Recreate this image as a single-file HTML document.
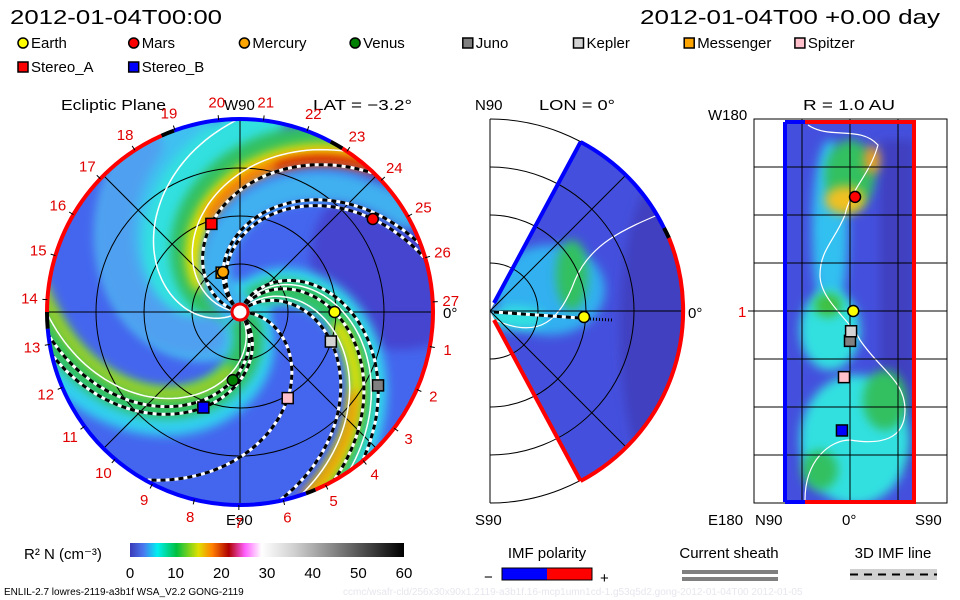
<!DOCTYPE html>
<html><head><meta charset="utf-8"><style>
body{margin:0;background:#fff;}
svg{display:block;font-family:"Liberation Sans",sans-serif;}
</style></head><body>
<svg id="c" width="960" height="600" viewBox="0 0 960 600">
<defs>
<filter id="bl" filterUnits="userSpaceOnUse" x="0" y="0" width="960" height="600"><feGaussianBlur stdDeviation="5"/></filter>
<clipPath id="eclip"><circle cx="240" cy="312" r="193"/></clipPath>
<clipPath id="wclip"><path d="M490,311 L580.6,140.6 A193,193 0 0 1 580.6,481.4 Z"/></clipPath>
<clipPath id="rclip"><rect x="785" y="122" width="129" height="380"/></clipPath>
<linearGradient id="cbar" x1="0" x2="1" y1="0" y2="0">
<stop offset="0" stop-color="#3a3ab8"/><stop offset="0.05" stop-color="#4a7af0"/><stop offset="0.1" stop-color="#00f0f0"/>
<stop offset="0.17" stop-color="#00c040"/><stop offset="0.25" stop-color="#e0e000"/><stop offset="0.3" stop-color="#ff8000"/>
<stop offset="0.36" stop-color="#b00000"/><stop offset="0.42" stop-color="#ff60ff"/><stop offset="0.48" stop-color="#ffffff"/>
<stop offset="0.6" stop-color="#d0d0d0"/><stop offset="1" stop-color="#000"/></linearGradient>
</defs>

<text x="10" y="24" font-size="20" textLength="212" lengthAdjust="spacingAndGlyphs">2012-01-04T00:00</text>
<text x="640" y="24" font-size="20" textLength="300" lengthAdjust="spacingAndGlyphs">2012-01-04T00 +0.00 day</text>
<g id="legend" font-size="15"></g>

<g>
<text x="61" y="110" font-size="15" textLength="105" lengthAdjust="spacingAndGlyphs">Ecliptic Plane</text>
<text x="224" y="110" font-size="15">W90</text>
<text x="313" y="110" font-size="15" textLength="99" lengthAdjust="spacingAndGlyphs">LAT = −3.2°</text>
<text x="226" y="525" font-size="15">E90</text>
<text x="443" y="318" font-size="15">0°</text>
<g clip-path="url(#eclip)">
<circle cx="240" cy="312" r="193" fill="#4466ee"/>
<g id="bands"></g>
</g>
<g id="egrid" fill="none" stroke="#000" stroke-width="1"></g>
<g id="espirals"></g>
<g id="ering"></g>
<g id="edays" font-size="15" fill="#e00000"></g>
<circle cx="240" cy="312" r="8" fill="#fff" stroke="#e00" stroke-width="3"/>
<g id="emarks"></g>
</g>

<g>
<text x="475" y="110" font-size="15">N90</text>
<text x="539" y="110" font-size="15" textLength="76" lengthAdjust="spacingAndGlyphs">LON = 0°</text>
<text x="475" y="525" font-size="15">S90</text>
<text x="688" y="318" font-size="15">0°</text>
<g clip-path="url(#wclip)">
<rect x="480" y="100" width="220" height="420" fill="#4450dd"/>
<ellipse cx="660" cy="330" rx="40" ry="150" fill="#4040c0" filter="url(#bl)"/>
<ellipse cx="550" cy="290" rx="55" ry="45" fill="#30b0f0" filter="url(#bl)"/>
<ellipse cx="572" cy="275" rx="16" ry="35" fill="#30c060" filter="url(#bl)"/>
<ellipse cx="515" cy="318" rx="30" ry="12" fill="#30e0e0" filter="url(#bl)"/>
<path d="M495,320 C540,340 560,320 575,280 C590,245 620,230 670,210" fill="none" stroke="#fff" stroke-width="1.2"/>
</g>
<g id="mgrid" fill="none" stroke="#000" stroke-width="1"></g>
<path d="M494,303 L580.6,142" stroke="#00f" stroke-width="4" fill="none"/>
<path d="M580.6,142 A193,193 0 0 1 664,228" stroke="#00f" stroke-width="4" fill="none"/>
<path d="M664,228 A193,193 0 0 1 669,238" stroke="#000" stroke-width="4" fill="none"/>
<path d="M669,238 A193,193 0 0 1 580.6,481" stroke="#f00" stroke-width="4" fill="none"/>
<path d="M494,320 L580.6,481" stroke="#f00" stroke-width="4" fill="none"/>
<path d="M494,312 L580,318" stroke="#fff" stroke-width="3" fill="none"/>
<path d="M494,312 L580,318" stroke="#000" stroke-width="3" stroke-dasharray="5,4" fill="none"/>
<path d="M590,319 L612,320" stroke="#000" stroke-width="3" stroke-dasharray="1,2" fill="none"/>
<circle cx="584" cy="317" r="5.5" fill="#ff0" stroke="#000" stroke-width="1.5"/>
</g>

<g>
<text x="803" y="110" font-size="15" textLength="92" lengthAdjust="spacingAndGlyphs">R = 1.0 AU</text>
<text x="708" y="120" font-size="15">W180</text>
<text x="708" y="525" font-size="15">E180</text>
<text x="738" y="317" font-size="15" fill="#e00">1</text>
<text x="755" y="525" font-size="15">N90</text>
<text x="842" y="525" font-size="15">0°</text>
<text x="915" y="525" font-size="15">S90</text>
<g clip-path="url(#rclip)">
<rect x="785" y="122" width="129" height="380" fill="#4450dd"/>
<rect x="880" y="140" width="34" height="330" fill="#4040c0" filter="url(#bl)"/>
<ellipse cx="830" cy="230" rx="18" ry="90" fill="#30c0f0" filter="url(#bl)"/>
<ellipse cx="850" cy="175" rx="25" ry="35" fill="#30c060" filter="url(#bl)"/>
<ellipse cx="845" cy="200" rx="20" ry="14" fill="#f0c020" filter="url(#bl)"/>
<ellipse cx="872" cy="160" rx="8" ry="14" fill="#f0a020" filter="url(#bl)"/>
<ellipse cx="830" cy="330" rx="30" ry="40" fill="#30e0e0" filter="url(#bl)"/>
<ellipse cx="828" cy="305" rx="14" ry="12" fill="#40c040" filter="url(#bl)"/>
<ellipse cx="855" cy="440" rx="55" ry="65" fill="#30e0e0" filter="url(#bl)"/>
<ellipse cx="885" cy="400" rx="22" ry="30" fill="#30c060" filter="url(#bl)"/>
<ellipse cx="820" cy="470" rx="18" ry="20" fill="#30c060" filter="url(#bl)"/>
<path d="M808,125 C830,140 860,125 878,145 C870,175 850,190 845,215 C835,240 820,250 820,275 C820,300 850,320 860,340 C880,370 905,380 905,410 C905,440 880,445 850,440 C830,440 805,460 805,500" fill="none" stroke="#fff" stroke-width="1.2"/>
</g>
<g id="rgrid" stroke="#000" stroke-width="1" fill="none"></g>
<path d="M785,122 L785,502" stroke="#00f" stroke-width="4"/>
<path d="M785,122 L805,122 M785,502 L805,502" stroke="#00f" stroke-width="4"/>
<path d="M805,122 L914,122 L914,502 L805,502" stroke="#f00" stroke-width="4" fill="none"/>
<g id="rmarks"></g>
</g>

<text x="24" y="559" font-size="15">R² N (cm⁻³)</text>
<rect x="130" y="543" width="274" height="14" fill="url(#cbar)"/>
<g id="cbticks" font-size="15" text-anchor="middle"></g>
<text x="547" y="558" font-size="15" text-anchor="middle">IMF polarity</text>
<text x="484" y="582" font-size="15">−</text>
<rect x="502" y="568" width="45" height="12" fill="#00f"/>
<rect x="547" y="568" width="45" height="12" fill="#f00"/>
<rect x="502" y="568" width="90" height="12" fill="none" stroke="#000"/>
<text x="600" y="583" font-size="15">+</text>
<text x="729" y="558" font-size="15" text-anchor="middle">Current sheath</text>
<rect x="682" y="570" width="96" height="4" fill="#808080"/>
<rect x="682" y="577" width="96" height="4" fill="#808080"/>
<text x="893" y="558" font-size="15" text-anchor="middle">3D IMF line</text>
<rect x="850" y="569" width="87" height="11" fill="#d0d0d0"/>
<line x1="850" y1="574.5" x2="937" y2="574.5" stroke="#000" stroke-width="2" stroke-dasharray="8,6"/>
<text x="4" y="595" font-size="10">ENLIL-2.7 lowres-2119-a3b1f WSA_V2.2 GONG-2119</text>
<text x="343" y="595" font-size="10" fill="#e6e6ee">ccmc/wsafr-cld/256x30x90x1.2119-a3b1f.16-mcp1umn1cd-1.g53q5d2.gong-2012-01-04T00   2012-01-05</text>
</svg>
<script>
const NS='http://www.w3.org/2000/svg';
const legendNames=['Earth','Mars','Mercury','Venus','Juno','Kepler','Messenger','Spitzer','Stereo_A','Stereo_B'];
const legendColors=['#ffff00','#ff0000','#ffa500','#008000','#808080','#d3d3d3','#ffa500','#ffc0cb','#ff0000','#0000ff'];
const legendShapes=['c','c','c','c','s','s','s','s','s','s'];
// ecliptic positions: distance (AU) and angle (deg, CCW from +x)
const eclDist=[0.98,1.68,0.45,0.71,1.62,0.99,0.45,1.02,0.96,1.06];
const eclAng=[0,35,113,264,-28,-18,115,-61,108,249];
// lat/lon panel positions
const llLat=[-3,-4.7,null,null,0,-1,null,5.6,null,7.5];
const llLon=[0,107,null,null,-28,-19,null,-62,null,-112];
const dayLabels=[27,1,2,3,4,5,6,7,8,9,10,11,12,13,14,15,16,17,18,19,20,21,22,23,24,25,26];
const cbTicks=[0,10,20,30,40,50,60];
const CX=240,CY=312,RAU=96.5,RMAX=193,TW=0.62;
function el(t,a,p){const e=document.createElementNS(NS,t);for(const k in a)e.setAttribute(k,a[k]);p.appendChild(e);return e;}
function pol(r,deg){const a=deg*Math.PI/180;return [CX+r*Math.cos(a),CY-r*Math.sin(a)];}
function spiral(phi0,r0,r1){let d='';for(let r=r0;r<=r1;r+=3){const p=pol(r,phi0-TW*r);d+=(d?'L':'M')+p[0].toFixed(1)+','+p[1].toFixed(1);}return d;}
const lg=document.getElementById('legend');
legendNames.forEach((n,i)=>{
 const row=i<8?0:1, col=i<8?i:i-8;
 const x=18+col*110.7+(col>=4?2:0), y=row?72:48;
 let m;
 if(legendShapes[i]==='c') m=el('circle',{cx:x+5,cy:y-5,r:5,fill:legendColors[i],stroke:'#000','stroke-width':1.5},lg);
 else m=el('rect',{x:x,y:y-10,width:10,height:10,fill:legendColors[i],stroke:'#000','stroke-width':1.5},lg);
 
 
 const t=el('text',{x:x+13,y:y},lg);t.textContent=n;
 
 
});
const bg=document.getElementById('bands');
el('circle',{cx:400,cy:260,r:90,fill:'#4444d0',filter:'url(#bl)'},bg);
[[225,8,190,70,'#40c0f0'],[200,8,190,46,'#30e0e0'],[183,10,195,30,'#30c060'],[174,50,198,18,'#e8e000'],[170,100,198,11,'#ff7000'],[168,150,198,7,'#c01010'],
 [62,8,195,36,'#30d8f0'],[57,20,198,22,'#30c060'],[53,100,198,13,'#e8e000'],[51,140,198,7,'#ff8000'],
 [312,8,198,44,'#30d0f0'],[304,15,198,30,'#30c060'],[296,60,198,12,'#a0d020'],[240,40,195,40,'#50a0f0'],[150,10,195,30,'#40b0f0']].forEach(b=>{
 el('path',{d:spiral(b[0],b[1],b[2]),fill:'none',stroke:b[4],'stroke-width':b[3],'stroke-linecap':'round',filter:'url(#bl)'},bg);
});
const g=document.getElementById('egrid');
[48,96,144].forEach(r=>el('circle',{cx:CX,cy:CY,r:r},g));
[0,45,90,135].forEach(a=>{const p=pol(RMAX,a),q=pol(RMAX,a+180);el('line',{x1:p[0],y1:p[1],x2:q[0],y2:q[1]},g);});
const sp=document.getElementById('espirals');
[210,176,64,48,300].forEach(p=>el('path',{d:spiral(p,10,195),fill:'none',stroke:'#fff','stroke-width':1.5},sp));
const imfIdx=[0,1,2,3,4,5,7,8,9];
imfIdx.forEach(i=>{
 const r=eclDist[i]*RAU, phi0=eclAng[i]+TW*r;
 el('path',{d:spiral(phi0,10,195),fill:'none',stroke:'#fff','stroke-width':3},sp);
 const l=el('path',{d:spiral(phi0,10,195),fill:'none',stroke:'#000','stroke-width':3,'stroke-dasharray':'5,4'},sp);
 
 
});
const ring=document.getElementById('ering');
function arc(a0,a1,col){const p=pol(RMAX,a0),q=pol(RMAX,a1);const large=(a1-a0)>180?1:0;
 return el('path',{d:`M${p[0]},${p[1]} A${RMAX},${RMAX} 0 ${large} 0 ${q[0]},${q[1]}`,fill:'none',stroke:col,'stroke-width':4},ring);}
[[-67,58,'#f00'],[58,62,'#000'],[62,110,'#00f'],[110,114,'#000'],[114,180,'#f00'],[180,185,'#000'],[185,290,'#00f'],[290,293,'#000']].forEach(s=>{
 const a=arc(s[0],s[1],s[2]);
 
 
});
const dl=document.getElementById('edays');
dayLabels.forEach((d,i)=>{
 const ang=3-i*360/27, p=pol(211,ang), t=pol(RMAX,ang), t2=pol(RMAX+5,ang);
 el('line',{x1:t[0],y1:t[1],x2:t2[0],y2:t2[1],stroke:'#000'},dl);
 const tx=el('text',{x:p[0],y:p[1]+5,'text-anchor':'middle'},dl);tx.textContent=d;
 
 
});
const mk=document.getElementById('emarks');
function marker(par,x,y,i,name){
 let m;
 if(legendShapes[i]==='c') m=el('circle',{cx:x,cy:y,r:5.5,fill:legendColors[i],stroke:'#000','stroke-width':1.5},par);
 else m=el('rect',{x:x-5.5,y:y-5.5,width:11,height:11,fill:legendColors[i],stroke:'#000','stroke-width':1.5},par);
 
 
}
[6,2,0,1,3,4,5,7,8,9].forEach(i=>{const p=pol(eclDist[i]*RAU,eclAng[i]);marker(mk,p[0],p[1],i,'ecliptic-marker-'+legendNames[i].toLowerCase());});
const mg=document.getElementById('mgrid');
el('line',{x1:490,y1:119,x2:490,y2:503},mg);
[48,96,144,192].forEach(r=>el('path',{d:`M490,${311-r} A${r},${r} 0 0 1 490,${311+r}`},mg));
[45,-45,0].forEach(a=>{const r=a*Math.PI/180;el('line',{x1:490,y1:311,x2:490+193*Math.cos(r),y2:311-193*Math.sin(r)},mg);});
const rg=document.getElementById('rgrid');
el('rect',{x:754,y:119,width:193,height:384},rg);
for(let k=1;k<8;k++)el('line',{x1:754,y1:119+k*48,x2:947,y2:119+k*48},rg);
[802,850,898].forEach(x=>el('line',{x1:x,y1:119,x2:x,y2:503},rg));
el('line',{x1:748,y1:311,x2:754,y2:311},rg);
const rm=document.getElementById('rmarks');
legendNames.forEach((n,i)=>{if(llLat[i]===null)return;const x=850-llLat[i]*193/180,y=311-llLon[i]*192/180;marker(rm,x,y,i,'latlon-marker-'+n.toLowerCase());});
const cb=document.getElementById('cbticks');
cbTicks.forEach(v=>{const x=130+v/60*274;const t=el('text',{x:x,y:578},cb);t.textContent=v;
 
 });
</script>
</body></html>
